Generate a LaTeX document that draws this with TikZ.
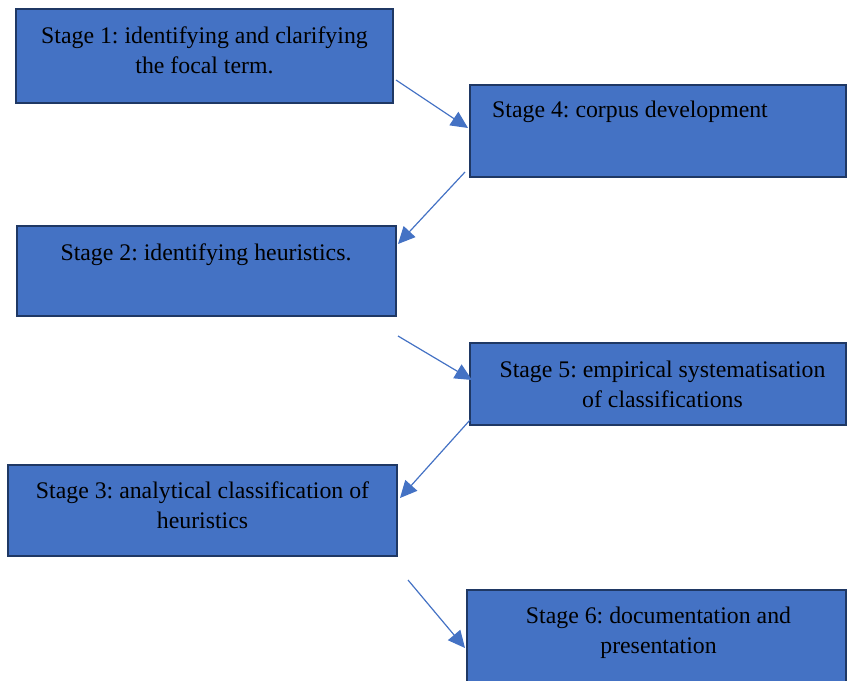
\documentclass[tikz,border=0pt]{standalone}
\usepackage{fontspec}
\setmainfont{Liberation Serif}
\usetikzlibrary{arrows.meta}
\definecolor{boxfill}{HTML}{4472C4}
\definecolor{boxline}{HTML}{1F3864}
\definecolor{arrowc}{HTML}{4472C4}
\tikzset{
  stagebox/.style={draw=boxline, fill=boxfill, line width=2.3pt},
  stagetext/.style={anchor=base, inner sep=0pt, font=\fontsize{23.8}{30}\selectfont},
  flow/.style={draw=arrowc, line width=1.2pt, -{Triangle[length=17pt,width=16pt]}}
}
\newcommand{\twolines}[2]{\begin{tabular}[t]{@{}c@{}}#1\\#2\end{tabular}}
\frenchspacing
\begin{document}
\begin{tikzpicture}[x=1pt,y=-1pt]
\useasboundingbox (0,0) rectangle (848,680);
\begin{scope}
\clip (0,0) rectangle (848,680);
% boxes
\path[stagebox] (16,9) rectangle (393,103);
\path[stagebox] (470,85) rectangle (846,177);
\path[stagebox] (17,226) rectangle (396,316);
\path[stagebox] (470,343) rectangle (846,425);
\path[stagebox] (8,465) rectangle (397,556);
\path[stagebox] (467,590) rectangle (846,700);
\end{scope}
% texts
\node[stagetext] (t1) at (204.5,43) {\twolines{Stage 1: identifying and clarifying}{the focal term.}};
\node[stagetext, anchor=base west] (t4) at (492,117) {Stage 4: corpus development};
\node[stagetext] (t2) at (206,260) {Stage 2: identifying heuristics.};
\node[stagetext] (t5) at (662.5,377) {\twolines{Stage 5: empirical systematisation}{of classifications}};
\node[stagetext] (t3) at (202.5,498) {\twolines{Stage 3: analytical classification of}{heuristics}};
\node[stagetext] (t6) at (658.5,623) {\twolines{Stage 6: documentation and}{presentation}};
% arrow end points
\coordinate (a1s) at (396,80);  \coordinate (a1e) at (468,128);
\coordinate (a2s) at (465,172); \coordinate (a2e) at (398,244);
\coordinate (a3s) at (398,336); \coordinate (a3e) at (472,380);
\coordinate (a4s) at (470,420); \coordinate (a4e) at (400,498);
\coordinate (a5s) at (408,580); \coordinate (a5e) at (465,648);
\draw[flow] (a1s) -- (a1e);
\draw[flow] (a2s) -- (a2e);
\draw[flow] (a3s) -- (a3e);
\draw[flow] (a4s) -- (a4e);
\draw[flow] (a5s) -- (a5e);
\end{tikzpicture}
\end{document}
